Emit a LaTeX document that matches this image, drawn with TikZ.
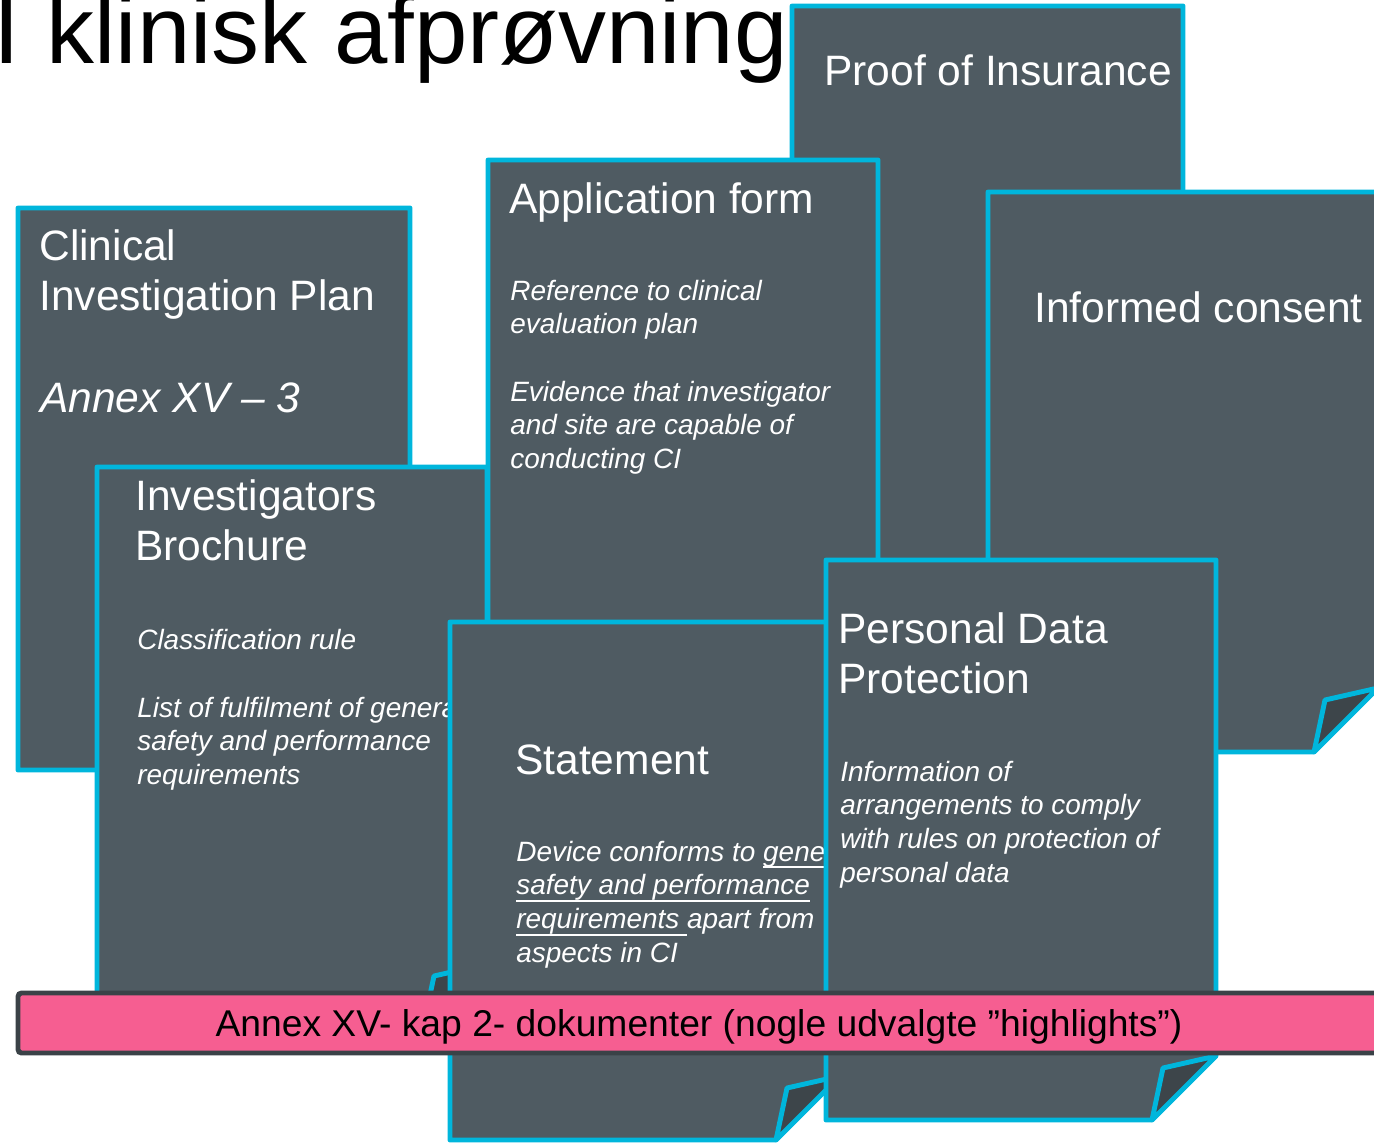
\documentclass[tikz,border=0pt]{standalone}
\usepackage{fontspec}
\setmainfont{Liberation Sans}

\definecolor{edgecyan}{RGB}{0,182,220}
\definecolor{pagegray}{RGB}{79,91,98}
\definecolor{flapgray}{RGB}{61,69,74}
\definecolor{bannerpink}{RGB}{246,94,145}
\definecolor{bannerrim}{RGB}{58,66,71}

\newcommand\hdrfont{\fontsize{24.2}{28}\selectfont}
\newcommand\notefont{\fontsize{15.9}{19}\selectfont\itshape}
\newcommand\hdrit{\fontsize{24.2}{28}\selectfont\itshape}

% underline drawn as a rule just below the descenders
\newcommand\ulx[1]{\setbox0\hbox{#1}\rlap{\rule[-0.26em]{\wd0}{0.07em}}\box0}

% a sheet with a curled bottom-right corner: name, left, top, right, bottom
\newcommand\docpage[5]{%
  \path[page] (#2,#3) -- (#4,#3) -- (#4,#5-64) -- (#4-64,#5) -- (#2,#5) -- cycle;
  \path[flap] (#4-64,#5) -- (#4-53,#5-52) -- (#4,#5-64) -- cycle;
}

% lines of text set one below the other: name, x, first baseline, step, font, lines
\newcommand\putlines[6]{%
  \foreach \lineText [count=\k] in {#6}
    \node[txt, font=#5] (#1-\k) at (#2,{#3+(\k-1)*#4}) {\lineText};
}

\begin{document}
\begin{tikzpicture}[x=0.02cm,y=-0.02cm,
  page/.style={fill=pagegray, draw=edgecyan, line width=2.8pt, line join=round},
  flap/.style={fill=flapgray, draw=edgecyan, line width=2.8pt, line join=round},
  txt/.style={anchor=base west, inner sep=0pt, text=white},
  bannerbox/.style={fill=bannerpink, draw=bannerrim, line width=2.8pt, rounded corners=2pt}]

\useasboundingbox (0,0) rectangle (1374,1143);
\clip (0,0) rectangle (1374,1143);

% heading
\node[anchor=base west, inner sep=0pt, font=\fontsize{54.6}{60}\selectfont] (title) at (-7,63) {I klinisk afprøvning};

% Proof of Insurance
\docpage{proof}{792}{6}{1183}{566}
\putlines{proofhd}{824}{85}{50.5}{\hdrfont}{Proof of Insurance}

% Informed consent
\docpage{consent}{988}{192}{1378}{752}
\putlines{consenthd}{1034}{322}{50.5}{\hdrfont}{Informed consent}

% Application form
\docpage{app}{488}{160}{878}{720}
\putlines{apphd}{509}{213}{50.5}{\hdrfont}{Application form}
\putlines{appa}{510}{300}{33.7}{\notefont}{Reference to clinical, evaluation plan}
\putlines{appb}{510}{401}{33.7}{\notefont}{Evidence that investigator, and site are capable of, conducting CI}

% Clinical Investigation Plan
\docpage{cip}{18}{208}{410}{770}
\putlines{ciphd}{39}{260}{50.5}{\hdrfont}{Clinical, Investigation Plan}
\putlines{cipannex}{40}{412}{50.5}{\hdrit}{Annex XV – 3}

% Investigators Brochure
\docpage{ib}{97}{467}{487}{1028}
\putlines{ibhd}{135}{510}{50.5}{\hdrfont}{Investigators, Brochure}
\putlines{iba}{137}{649}{33.7}{\notefont}{Classification rule}
\putlines{ibb}{137}{717}{33.7}{\notefont}{List of fulfilment of general, safety and performance, requirements}

% Statement
\docpage{stm}{450}{622}{840}{1140}
\putlines{stmhd}{515}{774}{50.5}{\hdrfont}{Statement}
\putlines{stma}{516}{861}{33.9}{\notefont}{Device conforms to \ulx{general}, \ulx{safety and performance}, \ulx{requirements }apart from, aspects in CI}

% Personal Data Protection
\docpage{pdp}{826}{560}{1216}{1120}
\putlines{pdphd}{838}{643}{50.5}{\hdrfont}{Personal Data, Protection}
\putlines{pdpa}{840}{781}{33.7}{\notefont}{Information of, arrangements to comply, with rules on protection of, personal data}

% banner across the bottom
\path[bannerbox] (18,993) rectangle (1392,1053);
\node[anchor=base, inner sep=0pt, font=\fontsize{21.2}{25}\selectfont] (banner) at (699,1036)
  {Annex XV- kap 2- dokumenter (nogle udvalgte ”highlights”)};

\end{tikzpicture}
\end{document}
